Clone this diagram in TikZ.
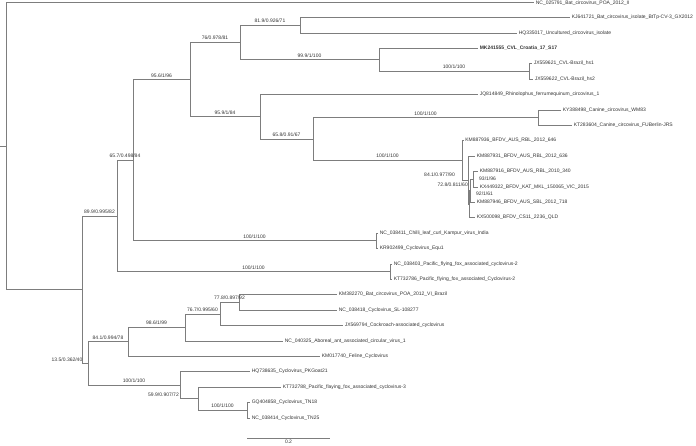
\documentclass[tikz,border=0pt]{standalone}
\usepackage{fontspec}
\setmainfont{Liberation Sans}
\newcommand\lblfont{\fontsize{5.0}{6}\selectfont}
\definecolor{brgray}{RGB}{125,125,125}
\definecolor{txtgray}{RGB}{50,50,50}
\tikzset{
  br/.style={draw=brgray, line width=0.6pt},
  leaf/.style={anchor=west, inner sep=0pt, xshift=1.6pt, font=\lblfont, text=txtgray},
  blab/.style={anchor=base, inner sep=0pt, font=\lblfont, text=txtgray},
}
\begin{document}
\begin{tikzpicture}[x=1pt,y=-1pt]
\useasboundingbox (0,0) rectangle (696,445);
% internal nodes
\coordinate (stub) at (0,145.8);
\coordinate (root) at (6,145.8);
\coordinate (n82) at (82,289.6);
\coordinate (n117) at (117,215.8);
\coordinate (n133) at (133,160.1);
\coordinate (n190) at (190,79.5);
\coordinate (n240) at (240,42.4);
\coordinate (n300) at (300,25.1);
\coordinate (n379) at (379,59.75);
\coordinate (n529) at (529,71.3);
\coordinate (n260) at (260,116.65);
\coordinate (n313) at (313,138.9);
\coordinate (n538) at (538,117.5);
\coordinate (nA) at (462,160.3);
\coordinate (nB) at (468,180.05);
\coordinate (nY) at (469.5,204.1);
\coordinate (nC) at (470.5,190.65);
\coordinate (nD) at (473.5,179.1);
\coordinate (n376) at (376,240.7);
\coordinate (n390) at (390,271.5);
\coordinate (n88) at (88,363.4);
\coordinate (n128) at (128,341.75);
\coordinate (n185) at (185,327.3);
\coordinate (n220) at (220,313.85);
\coordinate (n239) at (239,302.3);
\coordinate (n180) at (180,385.1);
\coordinate (n198) at (198,398.55);
\coordinate (n247) at (247,410.1);
% leaf tips
\coordinate (L1) at (534,2);
\coordinate (L2) at (570,17.4);
\coordinate (L3) at (517,32.8);
\coordinate (L4) at (478,48.2);
\coordinate (L5) at (532,63.6);
\coordinate (L6) at (533,79.0);
\coordinate (L7) at (478,94.4);
\coordinate (L8) at (561,109.8);
\coordinate (L9) at (572,125.2);
\coordinate (L10) at (463.5,140.6);
\coordinate (L11) at (475,156.0);
\coordinate (L12) at (478,171.4);
\coordinate (L13) at (478,186.8);
\coordinate (L14) at (475,202.2);
\coordinate (L15) at (475,217.6);
\coordinate (L16) at (378,233.0);
\coordinate (L17) at (378,248.4);
\coordinate (L18) at (392,263.8);
\coordinate (L19) at (392,279.2);
\coordinate (L20) at (337,294.6);
\coordinate (L21) at (337,310.0);
\coordinate (L22) at (343,325.4);
\coordinate (L23) at (283,340.8);
\coordinate (L24) at (320,356.2);
\coordinate (L25) at (250,371.6);
\coordinate (L26) at (281,387.0);
\coordinate (L27) at (250,402.4);
\coordinate (L28) at (250,417.8);
% branches
\draw[br] (stub) -- (root);
\draw[br] (root) |- (L1);
\draw[br] (root) |- (n82);
\draw[br] (n82) |- (n117);
\draw[br] (n82) |- (n88);
\draw[br] (n117) |- (n133);
\draw[br] (n117) |- (n390);
\draw[br] (n133) |- (n190);
\draw[br] (n133) |- (n376);
\draw[br] (n190) |- (n240);
\draw[br] (n190) |- (n260);
\draw[br] (n240) |- (n300);
\draw[br] (n240) |- (n379);
\draw[br] (n300) |- (L2);
\draw[br] (n300) |- (L3);
\draw[br] (n379) |- (L4);
\draw[br] (n379) |- (n529);
\draw[br] (n529) |- (L5);
\draw[br] (n529) |- (L6);
\draw[br] (n260) |- (L7);
\draw[br] (n260) |- (n313);
\draw[br] (n313) |- (n538);
\draw[br] (n313) |- (nA);
\draw[br] (n538) |- (L8);
\draw[br] (n538) |- (L9);
\draw[br] (nA) |- (L10);
\draw[br] (nA) |- (nB);
\draw[br] (nB) |- (L11);
\draw[br] (nB) |- (nY);
\draw[br] (nY) |- (nC);
\draw[br] (nY) |- (L15);
\draw[br] (nC) |- (nD);
\draw[br] (nC) |- (L14);
\draw[br] (nD) |- (L12);
\draw[br] (nD) |- (L13);
\draw[br] (n376) |- (L16);
\draw[br] (n376) |- (L17);
\draw[br] (n390) |- (L18);
\draw[br] (n390) |- (L19);
\draw[br] (n88) |- (n128);
\draw[br] (n88) |- (n180);
\draw[br] (n128) |- (n185);
\draw[br] (n128) |- (L24);
\draw[br] (n185) |- (n220);
\draw[br] (n185) |- (L23);
\draw[br] (n220) |- (n239);
\draw[br] (n220) |- (L22);
\draw[br] (n239) |- (L20);
\draw[br] (n239) |- (L21);
\draw[br] (n180) |- (L25);
\draw[br] (n180) |- (n198);
\draw[br] (n198) |- (L26);
\draw[br] (n198) |- (n247);
\draw[br] (n247) |- (L27);
\draw[br] (n247) |- (L28);
% leaf labels
\node[leaf, yshift=-1.6pt] (t1) at (L1) {NC\_025791\_Bat\_circovirus\_POA\_2012\_II};
\node[leaf] (t2) at (L2) {KJ641721\_Bat\_circovirus\_isolate\_BtTp-CV-3\_GX2012};
\node[leaf] (t3) at (L3) {HQ335017\_Uncultured\_circovirus\_isolate};
\node[leaf, font=\lblfont\bfseries] (t4) at (L4) {MK241555\_CVL\_Croatia\_17\_S17};
\node[leaf] (t5) at (L5) {JX559621\_CVL-Brazil\_hs1};
\node[leaf] (t6) at (L6) {JX559622\_CVL-Brazil\_hs2};
\node[leaf] (t7) at (L7) {JQ814849\_Rhinolophus\_ferrumequinum\_circovirus\_1};
\node[leaf] (t8) at (L8) {KY388498\_Canine\_circovirus\_WM83};
\node[leaf] (t9) at (L9) {KT283604\_Canine\_circovirus\_FUBerlin-JRS};
\node[leaf] (t10) at (L10) {KM887936\_BFDV\_AUS\_RBL\_2012\_646};
\node[leaf] (t11) at (L11) {KM887931\_BFDV\_AUS\_RBL\_2012\_636};
\node[leaf] (t12) at (L12) {KM887916\_BFDV\_AUS\_RBL\_2010\_340};
\node[leaf] (t13) at (L13) {KX449322\_BFDV\_KAT\_MKL\_150065\_VIC\_2015};
\node[leaf] (t14) at (L14) {KM887946\_BFDV\_AUS\_SBL\_2012\_718};
\node[leaf] (t15) at (L15) {KX500098\_BFDV\_CS11\_2236\_QLD};
\node[leaf] (t16) at (L16) {NC\_038411\_Chilli\_leaf\_curl\_Kampur\_virus\_India};
\node[leaf] (t17) at (L17) {KR902499\_Cyclovirus\_Equ1};
\node[leaf] (t18) at (L18) {NC\_038403\_Pacific\_flying\_fox\_associated\_cyclovirus-2};
\node[leaf] (t19) at (L19) {KT732786\_Pacific\_flying\_fox\_associated\_Cyclovirus-2};
\node[leaf] (t20) at (L20) {KM382270\_Bat\_circovirus\_POA\_2012\_VI\_Brazil};
\node[leaf] (t21) at (L21) {NC\_038418\_Cyclovirus\_SL-108277};
\node[leaf] (t22) at (L22) {JX569794\_Cockroach-associated\_cyclovirus};
\node[leaf] (t23) at (L23) {NC\_040325\_Aboreal\_ant\_associated\_circular\_virus\_1};
\node[leaf] (t24) at (L24) {KM017740\_Feline\_Cyclovirus};
\node[leaf] (t25) at (L25) {HQ738635\_Cyclovirus\_PKGoat21};
\node[leaf] (t26) at (L26) {KT732788\_Pacific\_flaying\_fox\_associated\_cyclovirus-3};
\node[leaf] (t27) at (L27) {GQ404858\_Cyclovirus\_TN18};
\node[leaf] (t28) at (L28) {NC\_038414\_Cyclovirus\_TN25};
% branch labels
\node[blab] (b1) at (270,22.6) {81.9/0.926/71};
\node[blab] (b2) at (215,39.9) {76/0.978/81};
\node[blab] (b3) at (309.5,57.25) {99.9/1/100};
\node[blab] (b4) at (454,68.8) {100/1/100};
\node[blab] (b5) at (161.5,77) {95.6/1/96};
\node[blab] (b6) at (225,114.15) {95.9/1/84};
\node[blab] (b7) at (286.5,136.4) {65.8/0.91/67};
\node[blab] (b8) at (425.5,115) {100/1/100};
\node[blab] (b9) at (387.5,157.8) {100/1/100};
\node[blab, anchor=base east] (b10) at (455,176) {84.1/0.977/90};
\node[blab, anchor=base east] (b11) at (468,186) {72.8/0.811/60};
\node[blab, anchor=base west] (b12) at (479,180) {93/1/96};
\node[blab, anchor=base west] (b13) at (476,195) {92/1/61};
\node[blab] (b14) at (125,157.6) {65.7/0.498/84};
\node[blab] (b15) at (99.5,213.3) {89.9/0.995/82};
\node[blab] (b16) at (254.5,238.2) {100/1/100};
\node[blab] (b17) at (253.5,269) {100/1/100};
\node[blab, anchor=base east] (b18) at (82.5,361.5) {13.5/0.362/40};
\node[blab] (b19) at (108,339.25) {84.1/0.994/78};
\node[blab] (b20) at (156.5,324.8) {98.6/1/99};
\node[blab] (b21) at (202.5,311.35) {76.7/0.995/60};
\node[blab] (b22) at (229.5,299.8) {77.8/0.897/92};
\node[blab] (b23) at (134,382.6) {100/1/100};
\node[blab, anchor=base east] (b24) at (179,396) {59.9/0.907/72};
\node[blab] (b25) at (222.5,407.6) {100/1/100};
% scale bar
\coordinate (sb1) at (247,438);
\coordinate (sb2) at (330,438);
\draw[br] (sb1) -- (sb2);
\node[blab, anchor=north] (sbl) at (288.5,439.8) {0.2};
\end{tikzpicture}
\end{document}
